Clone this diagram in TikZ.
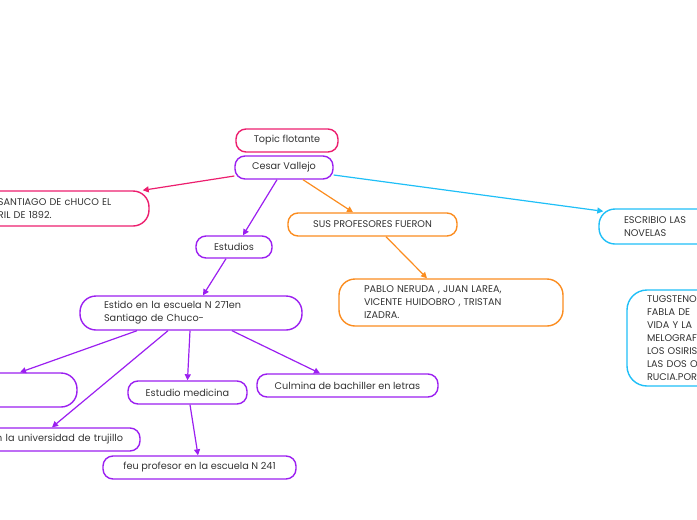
\documentclass[tikz,border=0pt]{standalone}
\usepackage{fontspec}
\setmainfont{Poppins}
\usepackage{xcolor}
\usepackage{tikz}
\usetikzlibrary{arrows.meta, positioning}

\definecolor{mappink}{HTML}{EC1E6E}
\definecolor{mappurple}{HTML}{9B1FF0}
\definecolor{maporange}{HTML}{FB8C1F}
\definecolor{mapcyan}{HTML}{1FBFF7}
\definecolor{maptext}{HTML}{333333}

\begin{document}
\begin{tikzpicture}[
    x=1pt, y=-1pt,
    box/.style={rectangle, rounded corners=10pt, draw, line width=1.4pt,
                minimum height=23pt, inner sep=0pt, text=maptext,
                font=\fontsize{9.7}{13}\selectfont, align=center},
    bigbox/.style={box, rounded corners=16pt, align=left, inner xsep=24pt},
    arrow/.style={-{Triangle[length=6pt, width=6pt]}, line width=1.2pt}
]
\useasboundingbox (0,0) rectangle (697,520);
\clip (0,0) rectangle (697,520);

% Central topic
\node[box, draw=mappink, minimum width=102pt] (topic) at (287,140.5) {Topic flotante};
\node[box, draw=mappurple, minimum width=98pt] (cesar) at (284,167.5) {Cesar Vallejo};

% Main branches
\node[bigbox, draw=mappink, text width=131pt, inner xsep=20pt, minimum height=35pt]
      (santiago) at (63.5,208.5) {SANTIAGO DE cHUCO EL\\RIL DE 1892.};
\node[box, draw=mappurple, minimum width=76pt, minimum height=22pt] (estudios) at (234,247) {Estudios};
\node[box, draw=maporange, minimum width=169pt] (profes) at (372.5,224.5) {SUS PROFESORES FUERON};
\node[bigbox, draw=mapcyan, text width=150pt, inner xsep=25pt, minimum height=35pt]
      (escribio) at (699,226.5) {ESCRIBIO LAS\\NOVELAS};

% Sub topics
\node[bigbox, draw=maporange, text width=174pt, inner xsep=25pt, minimum height=47pt]
      (pablo) at (451,302.5) {PABLO NERUDA , JUAN LAREA,\\VICENTE HUIDOBRO , TRISTAN\\IZADRA.};
\node[bigbox, draw=mapcyan, rounded corners=20pt, text width=150pt, inner xsep=20pt, minimum height=96pt]
      (tugsteno) at (722,338) {TUGSTENO\\FABLA DE\\VIDA Y LA\\MELOGRAFIADA\\LOS OSIRIS\\LAS DOS ORILLAS\\RUCIA.POR};
\node[bigbox, draw=mappurple, text width=174pt, minimum height=34pt]
      (estido) at (191,313) {Estido en la escuela N 271en\\Santiago de Chuco-};

% Studies
\node[box, draw=mappurple, rounded corners=16pt, minimum width=157pt, minimum height=34pt]
      (leftbox) at (-1.5,390) {};
\node[box, draw=mappurple, minimum width=119pt] (medicina) at (187.5,392.5) {Estudio medicina};
\node[box, draw=mappurple, minimum width=181pt] (culmina) at (347.5,385.5) {Culmina de bachiller en letras};
\node[box, draw=mappurple, text width=240pt, inner xsep=17pt, align=right]
      (univ) at (3,439.5) {en la universidad de trujillo};
\node[box, draw=mappurple, minimum width=193pt] (feu) at (199.5,467.5) {feu profesor en la escuela N 241};

% Connectors from Cesar Vallejo
\draw[arrow, mappink] ([yshift=-8.5pt]cesar.west) -- ([xshift=-7pt]santiago.north east);
\draw[arrow, mappurple] ([xshift=-7pt]cesar.south) -- ([xshift=9pt]estudios.north);
\draw[arrow, maporange] ([xshift=19pt]cesar.south) -- ([xshift=-19.5pt]profes.north);
\draw[arrow, mapcyan] ([yshift=-7.5pt]cesar.east) -- ([xshift=5pt, yshift=-3pt]escribio.north west);

\draw[arrow, maporange] ([xshift=13.5pt]profes.south) -- ([xshift=-24pt]pablo.north);
\draw[arrow, mappurple] ([xshift=-8pt]estudios.south) -- ([xshift=12pt]estido.north);

% Connectors from the school
\draw[arrow, mappurple] ([xshift=-54pt]estido.south) -- ([xshift=21.5pt]leftbox.north);
\draw[arrow, mappurple] ([xshift=-23pt]estido.south) -- ([xshift=49pt]univ.north);
\draw[arrow, mappurple] ([xshift=-1pt]estido.south) -- (medicina.north);
\draw[arrow, mappurple] ([xshift=41pt]estido.south) -- ([xshift=-27.5pt]culmina.north);
\draw[arrow, mappurple] ([xshift=2.5pt]medicina.south) -- ([xshift=-1.5pt]feu.north);

\end{tikzpicture}
\end{document}
